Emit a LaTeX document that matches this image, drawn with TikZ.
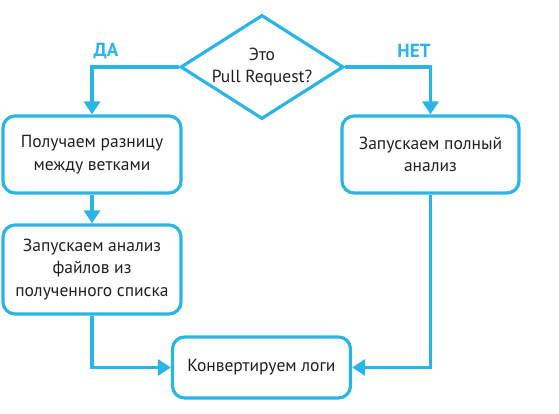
\documentclass[tikz,border=0pt]{standalone}
\usepackage{fontspec}
\setmainfont{PT Sans}
\usetikzlibrary{shapes.geometric,arrows.meta}
\definecolor{flow}{HTML}{29B5E8}
\definecolor{ink}{HTML}{231F20}
\tikzset{
  box/.style={draw=flow, line width=3.2pt, rounded corners=12pt, align=center,
    text=ink, font=\fontsize{17.5}{22.5}\selectfont, inner sep=0pt},
  choice/.style={draw=flow, line width=3.2pt, diamond, aspect=1.57, inner sep=0pt,
    minimum width=163pt, minimum height=104pt, align=center, text=ink,
    font=\fontsize{17.5}{22.5}\selectfont},
  link/.style={draw=flow, line width=3.2pt, -{Triangle[width=16pt,length=13pt]}},
  tag/.style={text=flow, font=\fontsize{19}{22}\selectfont\bfseries}
}
\begin{document}
\begin{tikzpicture}[x=1pt,y=-1pt]
\useasboundingbox (0,0) rectangle (559,414);
\node[choice] (q) at (262,67) {Это\\Pull Request?};
\node[box, minimum width=178pt, minimum height=77pt] (diff) at (92,154.5) {Получаем разницу\\между ветками};
\node[box, minimum width=177pt, minimum height=77pt] (full) at (430.5,154.5) {Запускаем полный\\анализ};
\node[box, minimum width=178pt, minimum height=89pt] (part) at (92,269.5) {Запускаем анализ\\файлов из\\полученного списка};
\node[box, minimum width=178pt, minimum height=61pt] (conv) at (261.5,367.5) {Конвертируем логи};
\node[tag] (yes) at (106,51) {ДА};
\node[tag] (no) at (414,51) {НЕТ};
\draw[link] (q.west) -| (diff.north);
\draw[link] (q.east) -| (full.north);
\draw[link] (diff.south) -- (part.north);
\draw[link] (part.south) |- (conv.west);
\draw[link] (full.south) |- (conv.east);
\end{tikzpicture}
\end{document}
